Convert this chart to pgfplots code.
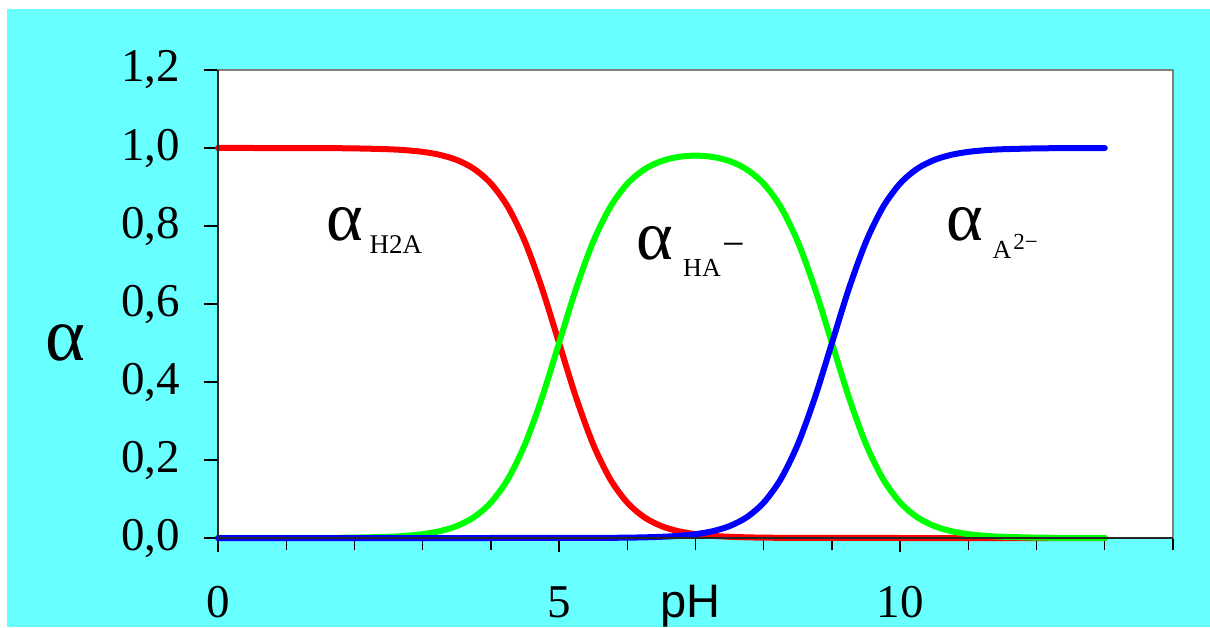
\documentclass[border=0pt]{standalone}
\usepackage{pgfplots}
\pgfplotsset{compat=1.18}
\usepackage{pgfplotstable}
\usepackage{fontspec}
\setmainfont{Liberation Serif}
\newfontfamily\timesf{Liberation Serif}
\newfontfamily\arial{Liberation Sans}
\definecolor{bgcyan}{RGB}{104,255,255}

\pgfplotstableread{
pH    H2A      HA       A
0     1.0000   0.00001  0
0.5   1.0000   0.00003  0
1     0.9999   0.0001   0
1.5   0.9997   0.0003   0
2     0.9990   0.0010   0
2.5   0.9968   0.0032   0
2.75  0.9944   0.0056   0
3     0.9901   0.0099   0
3.25  0.9825   0.0175   0
3.5   0.9693   0.0307   0
3.75  0.9468   0.0532   0
4     0.9091   0.0909   0.00001
4.25  0.8490   0.1510   0.00002
4.5   0.7597   0.2403   0.00002
4.75  0.6400   0.3600   0.00004
5     0.5000   0.5000   0.00005
5.25  0.3599   0.6400   0.0001
5.5   0.2402   0.7596   0.0002
5.75  0.1509   0.8486   0.0005
6     0.0908   0.9083   0.0009
6.25  0.0531   0.9452   0.0017
6.5   0.0306   0.9664   0.0031
6.75  0.0174   0.9771   0.0055
7     0.0098   0.9804   0.0098
7.25  0.0055   0.9771   0.0174
7.5   0.0031   0.9664   0.0306
7.75  0.0017   0.9452   0.0531
8     0.0009   0.9083   0.0908
8.25  0.0005   0.8486   0.1509
8.5   0.0002   0.7596   0.2402
8.75  0.0001   0.6400   0.3599
9     0.00005  0.5000   0.5000
9.25  0.00004  0.3600   0.6400
9.5   0.00002  0.2403   0.7597
9.75  0.00002  0.1510   0.8490
10    0.00001  0.0909   0.9091
10.25 0        0.0532   0.9468
10.5  0        0.0307   0.9693
10.75 0        0.0175   0.9825
11    0        0.0099   0.9901
11.25 0        0.0056   0.9944
11.5  0        0.0032   0.9968
12    0        0.0010   0.9990
12.5  0        0.0003   0.9997
13    0        0.0001   0.9999
}\datatable

\begin{document}
\begin{tikzpicture}
\fill[white] (-109pt,-44.5pt) rectangle (496pt,269pt);
\fill[bgcyan] (-105.5pt,-44.5pt) rectangle (496pt,264.5pt);
\begin{axis}[
  at={(0pt,0pt)}, anchor=south west,
  scale only axis, width=477.5pt, height=234pt,
  xmin=0, xmax=14, ymin=0, ymax=1.2,
  axis background/.style={fill=white},
  axis line style={draw=gray, line width=1pt},
  xtick={0,5,10},
  xticklabels={0,5,10},
  minor xtick={1,2,3,4,6,7,8,9,11,12,13,14},
  ytick={0,0.2,0.4,0.6,0.8,1.0,1.2},
  yticklabels={{0,0},{0,2},{0,4},{0,6},{0,8},{1,0},{1,2}},
  tick align=outside,
  major tick length=7pt, minor tick length=6pt,
  xtick pos=bottom, ytick pos=left,
  every tick/.style={black, line width=0.7pt},
  minor tick style={black, line width=0.7pt},
  ticklabel style={font=\timesf\fontsize{23.5}{28}\selectfont},
  yticklabel shift=8.5pt,
  xticklabel style={anchor=base, yshift=-32.5pt},
  clip=false,
]
\addplot[red, line width=3pt, smooth, line cap=round] table[x=pH, y=H2A] {\datatable};
\addplot[green, line width=3pt, smooth, line cap=round] table[x=pH, y=HA] {\datatable};
\addplot[blue, line width=3pt, smooth, line cap=round] table[x=pH, y=A] {\datatable};

\draw[black!85, line width=1pt] (rel axis cs:0,1) -- (rel axis cs:0,0) -- (rel axis cs:1,0);

\node[anchor=base west, inner sep=0pt, font=\timesf\fontsize{35}{40}\selectfont] at (axis cs:1.59,0.764)
  {α\kern3pt\raisebox{-6.5pt}{\fontsize{13.5}{15}\selectfont H2A}};
\node[anchor=base west, inner sep=0pt, font=\timesf\fontsize{35}{40}\selectfont] at (axis cs:6.13,0.713)
  {α\kern5pt\raisebox{-8.5pt}{\fontsize{13}{15}\selectfont HA}\kern1pt\raisebox{1pt}{\fontsize{20}{22}\selectfont −}};
\node[anchor=base west, inner sep=0pt, font=\timesf\fontsize{35}{40}\selectfont] at (axis cs:10.68,0.764)
  {α\kern4.5pt\raisebox{-9pt}{\fontsize{13}{15}\selectfont A}\kern1pt\raisebox{-4.5pt}{\fontsize{11.5}{13}\selectfont 2−}};

\node[anchor=base, inner sep=0pt, font=\arial\fontsize{23.5}{28}\selectfont] at (axis cs:6.92,-0.205) {pH};
\node[anchor=center, inner sep=0pt, font=\timesf\fontsize{38}{42}\selectfont] at (axis cs:-2.23,0.5) {α};
\end{axis}
\pgfresetboundingbox
\path (-109pt,-44.5pt) rectangle (496pt,269pt);
\end{tikzpicture}
\end{document}
